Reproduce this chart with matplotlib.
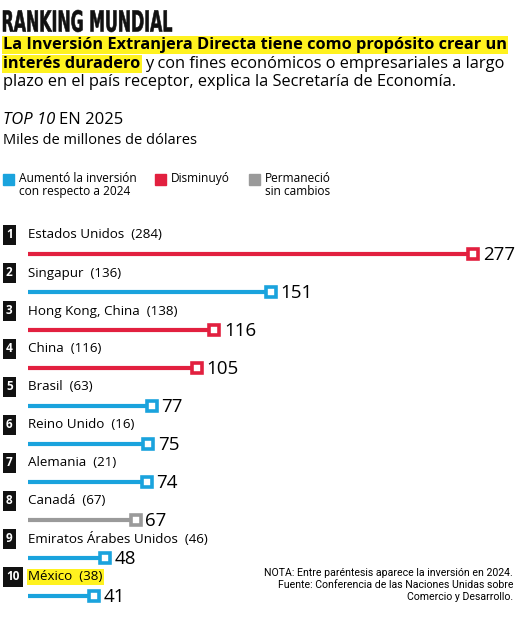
import matplotlib.pyplot as plt
from matplotlib.textpath import TextPath
from matplotlib.patches import PathPatch
from matplotlib.font_manager import FontProperties
from matplotlib.transforms import Affine2D, IdentityTransform

# Inversión Extranjera Directa, top 10 en 2025 (miles de millones de dólares)
paises = ["Estados Unidos", "Singapur", "Hong Kong, China", "China", "Brasil",
          "Reino Unido", "Alemania", "Canadá", "Emiratos Árabes Unidos", "México"]
valores_2024 = [284, 136, 138, 116, 63, 16, 21, 67, 46, 38]
valores_2025 = [277, 151, 116, 105, 77, 75, 74, 67, 48, 41]

AZUL = "#1aa3dd"
ROJO = "#e2203f"
GRIS = "#9a9a9a"
AMARILLO = "#fff21f"
W, H = 517, 620

def color_for(v24, v25):
    if v25 > v24:
        return AZUL
    if v25 < v24:
        return ROJO
    return GRIS

plt.rcParams["font.family"] = ["Open Sans", "DejaVu Sans"]

fig = plt.figure(figsize=(W / 100, H / 100), dpi=100)
fig.patch.set_facecolor("white")

def fx(x):
    return x / W

def fy(y):
    return 1 - y / H

# --- titulo condensado (texto escalado horizontalmente)
tp = TextPath((0, 0), "RANKING MUNDIAL", size=30,
              prop=FontProperties(family="DejaVu Sans", weight="bold"))
ext = tp.get_extents()
sx = 169 / ext.width
sy = 22 / ext.height
tr = Affine2D().translate(-ext.x0, -ext.y0).scale(sx, sy).translate(3, H - 32)
fig.add_artist(PathPatch(tp, transform=tr + IdentityTransform(),
                         facecolor="#111111", edgecolor="#111111", lw=0.4))

fs_sub = 11.8
t1 = fig.text(fx(3), fy(45), "La Inversión Extranjera Directa tiene como propósito crear un",
              fontsize=fs_sub, fontweight="bold", va="center", ha="left",
              bbox=dict(facecolor=AMARILLO, edgecolor="none", pad=1.0))
t2 = fig.text(fx(3), fy(64), "interés duradero", fontsize=fs_sub, fontweight="bold",
              va="center", ha="left",
              bbox=dict(facecolor=AMARILLO, edgecolor="none", pad=1.0))
renderer = fig.canvas.get_renderer()
bb = t2.get_window_extent(renderer)
fig.text(bb.x1 / W + fx(5), fy(64), "y con fines económicos o empresariales a largo",
         fontsize=fs_sub, va="center", ha="left")
fig.text(fx(3), fy(82), "plazo en el país receptor, explica la Secretaría de Economía.",
         fontsize=fs_sub, va="center", ha="left")

tt = fig.text(fx(3), fy(120), "TOP 10", fontsize=12, style="italic", va="center", ha="left")
bb = tt.get_window_extent(renderer)
fig.text(bb.x1 / W + fx(4), fy(120), "EN 2025", fontsize=12, va="center", ha="left")
fig.text(fx(3), fy(140), "Miles de millones de dólares", fontsize=10.5, va="center", ha="left")

# --- leyenda
legend_items = [(3, AZUL, "Aumentó la inversión\ncon respecto a 2024"),
                (155, ROJO, "Disminuyó"),
                (249, GRIS, "Permaneció\nsin cambios")]
for x, c, lab in legend_items:
    fig.patches.append(plt.Rectangle((fx(x), fy(185)), 11 / W, 11 / H, color=c,
                                     transform=fig.transFigure, figure=fig))
    fig.text(fx(x + 16), fy(172), lab, fontsize=8.6, va="top", ha="left",
             linespacing=1.05)

# --- barras
scale = (473 - 28) / valores_2025[0]
ax = fig.add_axes([0, 0, 1, 1])
ax.set_xlim(-28 / scale, (W - 28) / scale)
ax.set_ylim(H, 0)
ax.axis("off")
ax.patch.set_alpha(0)

y0, paso = 235, 38
for i, (pais, v24, v25) in enumerate(zip(paises, valores_2024, valores_2025)):
    c = color_for(v24, v25)
    yl = y0 + paso * i
    yb = yl + 18.5
    ax.text(6 / scale - 28 / scale, yl, str(i + 1), color="white", fontsize=8.5,
            fontweight="bold", ha="left", va="center",
            bbox=dict(facecolor="#111111", edgecolor="none",
                      boxstyle="square,pad=0.28"))
    label = f"{pais}  ({v24})"
    if pais == "México":
        ax.text(0, yl, label, fontsize=9.6, ha="left", va="center",
                bbox=dict(facecolor=AMARILLO, edgecolor="none", pad=1.0))
    else:
        ax.text(0, yl, label, fontsize=9.6, ha="left", va="center")
    ax.plot([0, v25], [yb, yb], color=c, lw=3, solid_capstyle="butt", zorder=2)
    ax.plot([v25], [yb], marker="s", ms=6.5, mfc="white", mec=c, mew=2.6, zorder=3)
    ax.annotate(str(v25), (v25, yb), xytext=(7, -1), textcoords="offset points",
                fontsize=13.5, ha="left", va="center")

# --- nota
fig.text(fx(513), fy(585),
         "NOTA: Entre paréntesis aparece la inversión en 2024.\n"
         "Fuente: Conferencia de las Naciones Unidas sobre\n"
         "Comercio y Desarrollo.",
         fontsize=7.6, ha="right", va="center", linespacing=1.25,
         family=["Roboto", "DejaVu Sans"])

fig.savefig("out.png", dpi=100)
